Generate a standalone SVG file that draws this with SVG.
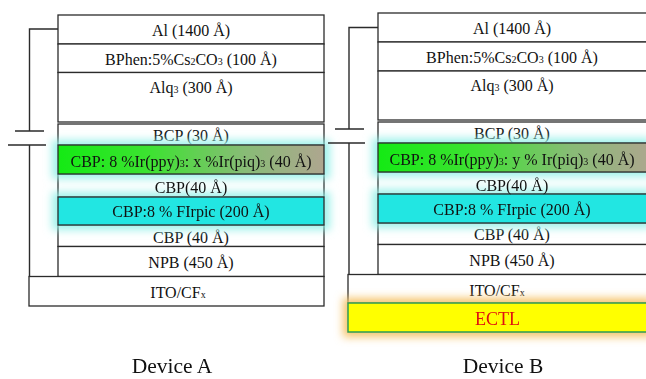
<svg xmlns="http://www.w3.org/2000/svg" width="646" height="379" viewBox="0 0 646 379">
<defs>
<style>
.ly{fill:#fff;stroke:#2b2b2b;stroke-width:1.3}
.t{font-family:"Liberation Serif","Times New Roman",serif;font-size:16px;fill:#111;text-anchor:middle}
.sub{font-size:10px}
.w{fill:none;stroke:#2b2b2b;stroke-width:1.4}
.gl{fill:#8ff0e8;opacity:0.85}
.cy{fill:#22e6e2;stroke:#2b2b2b;stroke-width:1.3}
.gr{stroke:#2b2b2b;stroke-width:1.3}
.lab{font-family:"Liberation Serif","Times New Roman",serif;font-size:21.5px;fill:#111;text-anchor:middle}
</style>
<linearGradient id="gA" x1="0" y1="0" x2="1" y2="0">
<stop offset="0" stop-color="#14ea14"/>
<stop offset="0.35" stop-color="#3ee232"/>
<stop offset="0.7" stop-color="#88bc76"/>
<stop offset="1" stop-color="#aea68f"/>
</linearGradient>
<filter id="blur" x="-20%" y="-100%" width="140%" height="300%">
<feGaussianBlur stdDeviation="4"/>
</filter>
</defs>

<!-- Device A -->
<g id="A-Al"><rect class="ly" x="58" y="15" width="266" height="29"/><text class="t" x="191" y="36">Al (1400 Å)</text></g>
<g id="A-BPhen"><rect class="ly" x="58" y="44" width="266" height="28.5"/><text class="t" x="191" y="65">BPhen:5%Cs<tspan class="sub">2</tspan>CO<tspan class="sub">3</tspan> (100 Å)</text></g>
<g id="A-Alq3"><rect class="ly" x="58" y="72.5" width="266" height="49.5"/><text class="t" x="191" y="93">Alq<tspan class="sub">3</tspan> (300 Å)</text></g>
<g id="A-BCP"><rect class="ly" x="58" y="124" width="266" height="21"/><text class="t" x="191" y="141">BCP (30 Å)</text></g>
<g id="A-CBP1"><rect class="ly" x="58" y="174" width="266" height="23"/></g>
<g id="A-CBP2"><rect class="ly" x="58" y="225" width="266" height="21.5"/><text class="t" x="191" y="243">CBP (40 Å)</text></g>
<g id="A-NPB"><rect class="ly" x="58" y="246.5" width="266" height="30"/><text class="t" x="191" y="268">NPB (450 Å)</text></g>
<g id="A-ITO"><rect class="ly" x="29" y="276.5" width="295" height="29.5"/><text class="t" x="178" y="298">ITO/CF<tspan class="sub">x</tspan></text></g>

<!-- Device B -->
<g id="B-Al"><rect class="ly" x="378" y="13" width="275" height="29"/><text class="t" x="512" y="34">Al (1400 Å)</text></g>
<g id="B-BPhen"><rect class="ly" x="378" y="42" width="275" height="29"/><text class="t" x="512" y="63">BPhen:5%Cs<tspan class="sub">2</tspan>CO<tspan class="sub">3</tspan> (100 Å)</text></g>
<g id="B-Alq3"><rect class="ly" x="378" y="71" width="275" height="49"/><text class="t" x="512" y="91">Alq<tspan class="sub">3</tspan> (300 Å)</text></g>
<g id="B-BCP"><rect class="ly" x="378" y="122" width="275" height="21"/><text class="t" x="512" y="139">BCP (30 Å)</text></g>
<g id="B-CBP1"><rect class="ly" x="378" y="172" width="275" height="22"/></g>
<g id="B-CBP2"><rect class="ly" x="378" y="223" width="275" height="21.5"/><text class="t" x="512" y="240">CBP (40 Å)</text></g>
<g id="B-NPB"><rect class="ly" x="378" y="244.5" width="275" height="30"/><text class="t" x="512" y="266">NPB (450 Å)</text></g>
<g id="B-ITO"><rect class="ly" x="348" y="274.5" width="305" height="28.5"/><text class="t" x="497" y="296">ITO/CF<tspan class="sub">x</tspan></text></g>

<!-- glows -->
<g id="glows" filter="url(#blur)">
<rect class="gl" x="52" y="140" width="278" height="39"/>
<rect class="gl" x="52" y="192" width="278" height="38"/>
<rect class="gl" x="372" y="138" width="280" height="39"/>
<rect class="gl" x="372" y="189" width="280" height="39"/>
<rect fill="#f6c46a" x="343" y="298" width="310" height="39"/>
</g>

<g id="A-EML"><rect class="gr" fill="url(#gA)" x="58" y="145" width="266" height="29"/><text class="t" x="191" y="167">CBP: 8 %Ir(ppy)<tspan class="sub">3</tspan>: x %Ir(piq)<tspan class="sub">3</tspan> (40 Å)</text></g>
<g id="A-FIrpic"><rect class="cy" x="58" y="197" width="266" height="28"/><text class="t" x="191" y="217">CBP:8 % FIrpic (200 Å)</text></g>
<text class="t" x="191" y="193">CBP(40 Å)</text>

<g id="B-EML"><rect class="gr" fill="url(#gA)" x="378" y="143" width="275" height="29"/><text class="t" x="512" y="165">CBP: 8 %Ir(ppy)<tspan class="sub">3</tspan>: y % Ir(piq)<tspan class="sub">3</tspan> (40 Å)</text></g>
<g id="B-FIrpic"><rect class="cy" x="378" y="194" width="275" height="29"/><text class="t" x="512" y="214.5">CBP:8 % FIrpic (200 Å)</text></g>
<text class="t" x="512" y="191">CBP(40 Å)</text>

<g id="B-ECTL"><rect fill="#ffff00" stroke="#2e9a55" stroke-width="1.5" x="348" y="303" width="305" height="29"/><text class="t" x="497.5" y="325" style="fill:#e01010;font-size:18px">ECTL</text></g>

<!-- connectors -->
<g id="connectors">
<path class="w" d="M58 29 H29.5 V131 M15 131 H44 M8 145 H46 M29.5 145 V276.5"/>
<path class="w" d="M378 27.5 H349 V129 M335 129 H364 M328 143 H365 M349 143 V274.5"/>
</g>

<g id="labels">
<text class="lab" x="172" y="373">Device A</text>
<text class="lab" x="503" y="373">Device B</text>
</g>
</svg>
